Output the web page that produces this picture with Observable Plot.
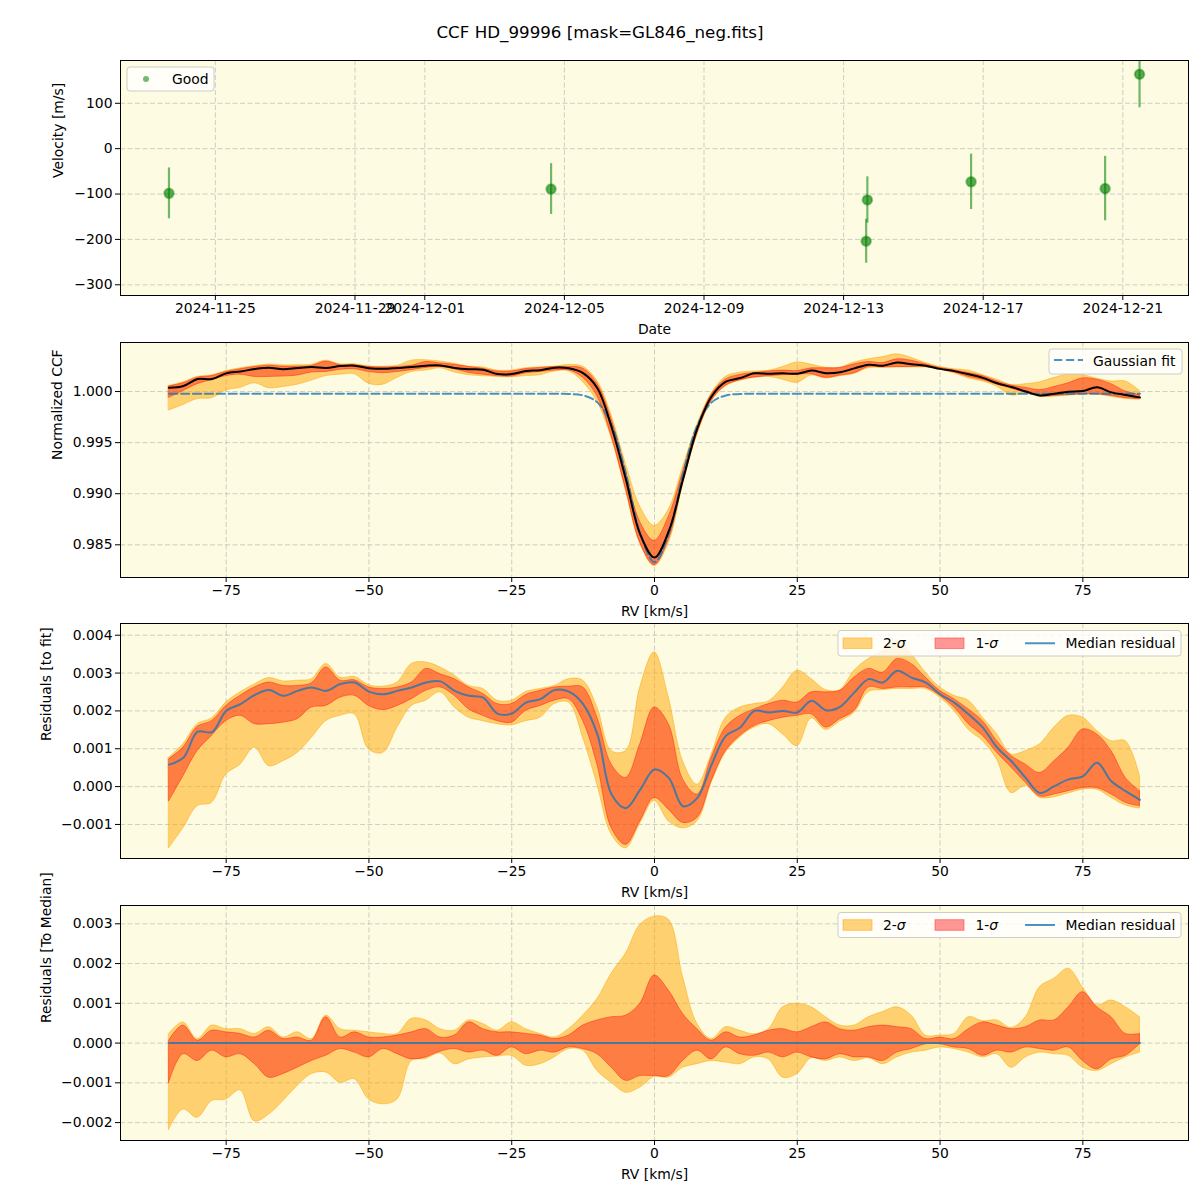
<!DOCTYPE html>
<html><head><meta charset="utf-8">
<script src="https://cdn.jsdelivr.net/npm/d3@7"></script>
<script src="https://cdn.jsdelivr.net/npm/@observablehq/plot@0.6"></script>
<style>
body{margin:0;background:#fff;font-family:"DejaVu Sans",sans-serif;}
#fig{position:relative;width:1200px;height:1200px;background:#fff;}
#title{position:absolute;top:22px;left:0;width:1200px;text-align:center;font-size:16.7px;line-height:20px;color:#000;}
</style></head>
<body><div id="fig"><div id="title">CCF HD_99996 [mask=GL846_neg.fits]</div></div>
<script>
// ---------- Panel 1 data: RV time series ----------
const obsDates = ["2024-11-23T16:05Z","2024-12-04T14:50Z","2024-12-13T16:20Z","2024-12-13T15:30Z","2024-12-16T15:40Z","2024-12-20T11:50Z","2024-12-21T11:30Z"];
const obsVel = [-98.5, -89, -113, -204, -73, -88, 164];
const obsErr = [56, 56, 51, 48.5, 61, 71, 74];
const dateTicks = ["2024-11-25","2024-11-29","2024-12-01","2024-12-05","2024-12-09","2024-12-13","2024-12-17","2024-12-21"];
const velTicks = [-300, -200, -100, 0, 100];

// ---------- Shared RV grid (km/s) ----------
const rv = [-85,-82.5,-80,-77.5,-75,-72.5,-70,-67.5,-65,-62.5,-60,-57.5,-55,-52.5,-50,-47.5,-45,-42.5,-40,-37.5,-35,-32.5,-30,-27.5,-25,-22.5,-20,-17.5,-15,-12.5,-10,-7.5,-5,-2.5,0,2.5,5,7.5,10,12.5,15,17.5,20,22.5,25,27.5,30,32.5,35,37.5,40,42.5,45,47.5,50,52.5,55,57.5,60,62.5,65,67.5,70,72.5,75,77.5,80,82.5,85];
const rvTicks = [-75, -50, -25, 0, 25, 50, 75];

// ---------- Panel 2: normalized CCF ----------
const ccfMed = [1.00036,1.00054,1.00123,1.00122,1.00178,1.00196,1.00220,1.00233,1.00218,1.00231,
1.00240,1.00231,1.00249,1.00253,1.00229,1.00222,1.00231,1.00240,1.00253,1.00256,
1.00231,1.00218,1.00213,1.00171,1.00171,1.00200,1.00209,1.00233,1.00227,1.00180,
1.00032,0.99648,0.99138,0.98602,0.98375,0.98633,0.99143,0.99639,0.99952,1.00096,
1.00132,1.00178,1.00174,1.00178,1.00174,1.00205,1.00180,1.00189,1.00227,1.00262,
1.00253,1.00284,1.00266,1.00253,1.00222,1.00200,1.00169,1.00134,1.00081,1.00045,
1.00001,0.99961,0.99979,0.99997,1.00005,1.00041,0.99992,0.99966,0.99943];
const ccfLo1 = [0.99939,1.00005,1.00072,1.00112,1.00151,1.00165,1.00143,1.00143,1.00147,1.00156,
1.00187,1.00191,1.00213,1.00218,1.00191,1.00180,1.00191,1.00209,1.00231,1.00240,
1.00218,1.00182,1.00165,1.00151,1.00147,1.00178,1.00191,1.00205,1.00207,1.00135,
0.99952,0.99559,0.99041,0.98518,0.98300,0.98549,0.99099,0.99586,0.99908,1.00056,
1.00110,1.00138,1.00151,1.00160,1.00165,1.00169,1.00134,1.00156,1.00178,1.00240,
1.00236,1.00240,1.00240,1.00240,1.00218,1.00187,1.00143,1.00112,1.00067,1.00028,
0.99988,0.99952,0.99957,0.99966,0.99974,0.99974,0.99957,0.99935,0.99926];
const ccfHi1 = [1.00050,1.00081,1.00136,1.00151,1.00191,1.00218,1.00240,1.00253,1.00244,1.00244,
1.00251,1.00293,1.00258,1.00259,1.00240,1.00236,1.00240,1.00253,1.00289,1.00275,
1.00262,1.00240,1.00223,1.00196,1.00196,1.00220,1.00231,1.00240,1.00240,1.00224,
1.00076,0.99727,0.99218,0.98722,0.98539,0.98775,0.99214,0.99648,0.99970,1.00118,
1.00163,1.00182,1.00196,1.00205,1.00200,1.00227,1.00227,1.00231,1.00266,1.00289,
1.00279,1.00315,1.00302,1.00266,1.00231,1.00209,1.00182,1.00151,1.00098,1.00059,
1.00036,1.00014,1.00045,1.00081,1.00129,1.00116,1.00072,1.00001,0.99966];
const ccfLo2 = [0.99815,0.99868,0.99926,0.99935,1.00010,1.00036,1.00081,1.00032,1.00045,1.00067,
1.00107,1.00151,1.00165,1.00169,1.00076,1.00067,1.00134,1.00191,1.00205,1.00227,
1.00187,1.00160,1.00151,1.00143,1.00140,1.00151,1.00160,1.00196,1.00198,1.00091,
0.99899,0.99542,0.99032,0.98512,0.98292,0.98518,0.99085,0.99577,0.99904,1.00052,
1.00106,1.00134,1.00143,1.00116,1.00085,1.00158,1.00128,1.00150,1.00173,1.00228,
1.00233,1.00236,1.00236,1.00236,1.00213,1.00178,1.00128,1.00098,1.00048,0.99961,
0.99980,0.99948,0.99950,0.99960,0.99970,0.99970,0.99948,0.99928,0.99920];
const ccfHi2 = [1.00054,1.00090,1.00143,1.00158,1.00200,1.00227,1.00248,1.00265,1.00256,1.00258,
1.00262,1.00302,1.00266,1.00268,1.00246,1.00242,1.00253,1.00302,1.00306,1.00293,
1.00271,1.00244,1.00236,1.00205,1.00205,1.00228,1.00236,1.00244,1.00260,1.00242,
1.00103,0.99763,0.99289,0.98872,0.98685,0.98845,0.99262,0.99674,0.99979,1.00144,
1.00185,1.00196,1.00203,1.00240,1.00284,1.00262,1.00233,1.00233,1.00284,1.00315,
1.00337,1.00364,1.00328,1.00279,1.00240,1.00218,1.00205,1.00160,1.00116,1.00063,
1.00072,1.00090,1.00134,1.00165,1.00160,1.00125,1.00098,1.00098,1.00005];
const gaussFit = [0.99978,0.99978,0.99978,0.99978,0.99978,0.99978,0.99978,0.99978,0.99978,0.99978,
0.99978,0.99978,0.99978,0.99978,0.99978,0.99978,0.99978,0.99978,0.99978,0.99978,
0.99978,0.99978,0.99978,0.99978,0.99978,0.99978,0.99978,0.99978,0.99976,0.99962,
0.99894,0.99669,0.99195,0.98610,0.98330,0.98610,0.99195,0.99669,0.99894,0.99962,
0.99976,0.99978,0.99978,0.99978,0.99978,0.99978,0.99978,0.99978,0.99978,0.99978,
0.99978,0.99978,0.99978,0.99978,0.99978,0.99978,0.99978,0.99978,0.99978,0.99978,
0.99978,0.99978,0.99978,0.99978,0.99978,0.99978,0.99978,0.99978,0.99978];
const ccfTicks = [0.985, 0.990, 0.995, 1.000];

// ---------- Panel 3: residuals to fit (units of 1e-3) ----------
const resMed = [0.58,0.76,1.45,1.44,2.00,2.18,2.42,2.55,2.40,2.53,
2.62,2.53,2.71,2.75,2.51,2.44,2.53,2.62,2.75,2.78,
2.53,2.40,2.35,1.93,1.93,2.22,2.31,2.55,2.51,2.18,
1.38,-0.21,-0.57,-0.08,0.45,0.23,-0.52,-0.30,0.58,1.34,
1.56,2.00,1.96,2.00,1.96,2.27,2.02,2.11,2.49,2.84,
2.75,3.06,2.88,2.75,2.44,2.22,1.91,1.56,1.03,0.67,
0.23,-0.17,0.01,0.19,0.27,0.63,0.14,-0.12,-0.35];
const resLo1 = [-0.39,0.27,0.94,1.34,1.73,1.87,1.65,1.65,1.69,1.78,
2.09,2.13,2.35,2.40,2.13,2.02,2.13,2.31,2.53,2.62,
2.40,2.04,1.87,1.73,1.69,2.00,2.13,2.27,2.31,1.73,
0.58,-1.10,-1.54,-0.92,-0.30,-0.61,-0.96,-0.83,0.14,0.94,
1.34,1.60,1.73,1.82,1.87,1.91,1.56,1.78,2.00,2.62,
2.58,2.62,2.62,2.62,2.40,2.09,1.65,1.34,0.89,0.50,
0.10,-0.26,-0.21,-0.12,-0.04,-0.04,-0.21,-0.43,-0.52];
const resHi1 = [0.72,1.03,1.58,1.73,2.13,2.40,2.62,2.75,2.66,2.66,
2.73,3.15,2.80,2.81,2.62,2.58,2.62,2.75,3.11,2.97,
2.84,2.62,2.45,2.18,2.18,2.42,2.53,2.62,2.64,2.62,
1.82,0.58,0.23,1.12,2.09,1.65,0.19,-0.21,0.76,1.56,
1.87,2.04,2.18,2.27,2.22,2.49,2.49,2.53,2.88,3.11,
3.01,3.37,3.24,2.88,2.53,2.31,2.04,1.73,1.20,0.81,
0.58,0.36,0.67,1.03,1.51,1.38,0.94,0.23,-0.12];
const resLo2 = [-1.63,-1.10,-0.52,-0.43,0.32,0.58,1.03,0.54,0.67,0.89,
1.29,1.73,1.87,1.91,0.98,0.89,1.56,2.13,2.27,2.49,
2.09,1.82,1.73,1.65,1.62,1.73,1.82,2.18,2.22,1.29,
0.05,-1.27,-1.63,-0.98,-0.38,-0.92,-1.10,-0.92,0.10,0.90,
1.30,1.56,1.65,1.38,1.07,1.80,1.50,1.72,1.95,2.50,
2.55,2.58,2.58,2.58,2.35,2.00,1.50,1.20,0.70,-0.17,
0.02,-0.30,-0.28,-0.18,-0.08,-0.08,-0.30,-0.50,-0.58];
const resHi2 = [0.76,1.12,1.65,1.80,2.22,2.49,2.70,2.87,2.78,2.80,
2.84,3.24,2.88,2.90,2.68,2.64,2.75,3.24,3.28,3.15,
2.93,2.66,2.58,2.27,2.27,2.50,2.58,2.66,2.84,2.80,
2.09,0.94,0.94,2.62,3.55,2.35,0.67,0.05,0.85,1.82,
2.09,2.18,2.25,2.62,3.06,2.84,2.55,2.55,3.06,3.37,
3.59,3.86,3.50,3.01,2.62,2.40,2.27,1.82,1.38,0.85,
0.94,1.12,1.56,1.87,1.82,1.47,1.20,1.20,0.27];
const resFitTicks = [-0.001, 0, 0.001, 0.002, 0.003, 0.004];

// ---------- Panel 4: residuals to median (units of 1e-3) ----------
const medLo1 = [-1.00,-0.28,-0.45,-0.19,-0.36,-0.28,-0.53,-0.87,-0.78,-0.62,
-0.45,-0.32,-0.15,-0.24,-0.36,-0.15,-0.28,-0.41,-0.36,-0.22,
-0.15,-0.24,-0.19,-0.32,-0.11,-0.28,-0.19,-0.24,-0.11,-0.15,
-0.28,-0.62,-0.95,-0.83,-0.83,-0.83,-0.45,-0.19,-0.41,-0.11,
-0.28,-0.32,-0.24,-0.36,-0.24,-0.36,-0.41,-0.28,-0.36,-0.36,
-0.45,-0.24,-0.15,-0.03,-0.03,-0.11,-0.15,-0.32,-0.19,-0.24,
-0.11,-0.15,-0.19,-0.11,-0.45,-0.66,-0.41,-0.32,-0.03];
const medHi1 = [0.06,0.44,0.06,0.31,0.27,0.23,0.14,0.31,0.10,0.14,
0.06,0.65,0.14,0.27,0.14,0.14,0.19,0.27,0.35,0.14,
0.19,0.52,0.35,0.27,0.27,0.23,0.19,0.10,0.19,0.44,
0.57,0.65,0.69,0.99,1.70,1.32,0.73,0.35,0.06,0.27,
0.14,0.19,0.31,0.35,0.27,0.40,0.52,0.35,0.31,0.40,
0.44,0.40,0.35,0.10,0.14,0.10,0.35,0.52,0.44,0.35,
0.40,0.57,0.57,0.90,1.28,0.90,0.65,0.23,0.23];
const medLo2 = [-2.18,-1.67,-1.88,-1.46,-1.42,-1.19,-1.97,-1.80,-1.46,-1.08,
-0.78,-0.74,-1.00,-0.91,-1.42,-1.54,-1.42,-0.45,-0.40,-0.26,
-0.53,-0.41,-0.36,-0.34,-0.32,-0.57,-0.53,-0.36,-0.15,-0.19,
-0.70,-1.00,-1.25,-1.12,-0.85,-0.87,-0.62,-0.53,-0.45,-0.49,
-0.53,-0.36,-0.41,-0.87,-0.78,-0.38,-0.45,-0.36,-0.45,-0.38,
-0.53,-0.36,-0.24,-0.19,-0.11,-0.15,-0.24,-0.36,-0.28,-0.62,
-0.36,-0.24,-0.28,-0.32,-0.62,-0.70,-0.53,-0.36,-0.24];
const medHi2 = [0.23,0.52,0.10,0.44,0.35,0.35,0.23,0.40,0.14,0.27,
0.10,0.69,0.35,0.31,0.27,0.23,0.23,0.61,0.57,0.35,
0.31,0.57,0.48,0.31,0.52,0.35,0.23,0.14,0.35,0.69,
1.11,1.75,2.25,2.97,3.18,3.10,1.66,0.48,0.10,0.40,
0.31,0.22,0.35,0.90,0.99,0.90,0.65,0.44,0.44,0.65,
0.78,0.90,0.69,0.19,0.19,0.23,0.65,0.55,0.57,0.38,
0.65,1.41,1.62,1.87,1.40,0.95,1.07,0.90,0.65];
const medZero = rv.map(() => 0); // median residual relative to itself
const resMedTicks = [-0.002, -0.001, 0, 0.001, 0.002, 0.003];
const UNIT = 1e-3;

// ---------- styling ----------
const FONT = "'DejaVu Sans', sans-serif";
const FS = "13.9px";
const BG = "#fdfbe1";
const GRID = {stroke: "#b0b0b0", strokeOpacity: 0.6, strokeDasharray: "5,2.5", strokeWidth: 1};
const W = 1200, ML = 120, MR = 12, MT = 10, MB = 45, PH = 235;
const CURVE = "catmull-rom";
const BLUE = "#1f77b4";
const DASH = "8.3,3.6";
const fig = document.getElementById("fig");

function place(svg, top) {
  svg.style.position = "absolute";
  svg.style.left = "0px";
  svg.style.top = top + "px";
  fig.appendChild(svg);
}
function makePlot(opts) {
  return Plot.plot(Object.assign({
    width: W, height: MT + PH + MB,
    marginLeft: ML, marginRight: MR, marginTop: MT, marginBottom: MB,
    style: {fontFamily: FONT, fontSize: FS, background: "transparent", color: "black", overflow: "visible"}
  }, opts));
}
function axisLabels(xLabel, yLabel, yDx) {
  return [
    Plot.text([xLabel], {text: d => d, frameAnchor: "bottom", dy: 38, fontSize: FS}),
    Plot.text([yLabel], {text: d => d, frameAnchor: "left", dx: yDx, rotate: -90, fontSize: FS})
  ];
}
function legendGroup(svg) {
  return d3.select(svg).append("g").attr("font-family", FONT).attr("font-size", FS).attr("text-anchor", "start").attr("fill", "black");
}
function legendBox(g, x0, y0, x1, y1) {
  g.append("rect").attr("x", x0).attr("y", y0).attr("width", x1 - x0).attr("height", y1 - y0)
    .attr("rx", 3).attr("fill", "white").attr("fill-opacity", 0.8).attr("stroke", "#cccccc").attr("stroke-width", 1);
}
function legendText(g, x, y) {
  return g.append("text").attr("x", x).attr("y", y).attr("dominant-baseline", "central").attr("text-anchor", "start");
}
function sigmaLegend(svg, top, y0, y1) {
  const g = legendGroup(svg);
  legendBox(g, 838, y0 - top, 1181, y1 - top);
  const cy = (y0 + y1) / 2 - top;
  g.append("rect").attr("x", 843).attr("y", cy - 5.3).attr("width", 29).attr("height", 10.6)
    .attr("fill", "orange").attr("fill-opacity", 0.5).attr("stroke", "orange").attr("stroke-opacity", 0.5);
  const t1 = legendText(g, 883, cy);
  t1.append("tspan").text("2-"); t1.append("tspan").attr("font-style", "italic").text("σ");
  g.append("rect").attr("x", 935).attr("y", cy - 5.3).attr("width", 29).attr("height", 10.6)
    .attr("fill", "red").attr("fill-opacity", 0.4).attr("stroke", "red").attr("stroke-opacity", 0.4);
  const t2 = legendText(g, 975.5, cy);
  t2.append("tspan").text("1-"); t2.append("tspan").attr("font-style", "italic").text("σ");
  g.append("line").attr("x1", 1025).attr("x2", 1055).attr("y1", cy).attr("y2", cy)
    .attr("stroke", BLUE).attr("stroke-opacity", 0.8).attr("stroke-width", 2);
  legendText(g, 1065.5, cy).text("Median residual");
}

// ---------- Panel 1 ----------
const obs = obsDates.map((d, i) => ({date: new Date(d), v: obsVel[i], lo: obsVel[i] - obsErr[i], hi: obsVel[i] + obsErr[i]}));
const dTicks = dateTicks.map(d => new Date(d + "T00:00Z"));
const p1 = makePlot({
  x: {type: "utc", domain: [new Date("2024-11-22T06:45Z"), new Date("2024-12-22T21:10Z")], label: null},
  y: {domain: [-323.6, 194.3], label: null},
  marks: [
    Plot.frame({fill: BG}),
    Plot.gridX(dTicks, GRID),
    Plot.gridY(velTicks, GRID),
    Plot.ruleX(obs, {x: "date", y1: "lo", y2: "hi", stroke: "green", strokeOpacity: 0.55, strokeWidth: 2.2, clip: true}),
    Plot.dot(obs, {x: "date", y: "v", r: 4.8, fill: "green", fillOpacity: 0.65, stroke: "green", strokeOpacity: 0.4, strokeWidth: 2}),
    Plot.frame({stroke: "black", strokeWidth: 1}),
    Plot.axisX(dTicks, {tickFormat: d3.utcFormat("%Y-%m-%d"), tickSize: 5, tickPadding: 3, label: null}),
    Plot.axisY(velTicks, {tickFormat: d3.format("d"), tickSize: 5, tickPadding: 3, label: null}),
    ...axisLabels("Date", "Velocity [m/s]", -62)
  ]
});
place(p1, 50);
{
  const g = legendGroup(p1);
  legendBox(g, 127, 67 - 50, 214, 91 - 50);
  g.append("circle").attr("cx", 146).attr("cy", 79 - 50).attr("r", 3).attr("fill", "green").attr("fill-opacity", 0.55);
  legendText(g, 172, 79 - 50).text("Good");
}

// ---------- Panel 2 ----------
const ccfRows = rv.map((x, i) => ({rv: x, med: ccfMed[i], lo1: ccfLo1[i], hi1: ccfHi1[i], lo2: ccfLo2[i], hi2: ccfHi2[i], fit: gaussFit[i]}));
const p2 = makePlot({
  x: {domain: [-93.5, 93.5], label: null},
  y: {domain: [0.9818, 1.0048], label: null},
  marks: [
    Plot.frame({fill: BG}),
    Plot.gridX(rvTicks, GRID),
    Plot.gridY(ccfTicks, GRID),
    Plot.areaY(ccfRows, {x: "rv", y1: "lo2", y2: "hi2", fill: "orange", fillOpacity: 0.5, stroke: "orange", strokeOpacity: 0.5, strokeWidth: 1, curve: CURVE}),
    Plot.areaY(ccfRows, {x: "rv", y1: "lo1", y2: "hi1", fill: "red", fillOpacity: 0.4, stroke: "red", strokeOpacity: 0.4, strokeWidth: 1, curve: CURVE}),
    Plot.lineY(ccfRows, {x: "rv", y: "fit", stroke: BLUE, strokeOpacity: 0.8, strokeWidth: 2, strokeDasharray: DASH, curve: CURVE}),
    Plot.lineY(ccfRows, {x: "rv", y: "med", stroke: "black", strokeWidth: 2, curve: CURVE}),
    Plot.frame({stroke: "black", strokeWidth: 1}),
    Plot.axisX(rvTicks, {tickFormat: d3.format("d"), tickSize: 5, tickPadding: 3, label: null}),
    Plot.axisY(ccfTicks, {tickFormat: d3.format(".3f"), tickSize: 5, tickPadding: 3, label: null}),
    ...axisLabels("RV [km/s]", "Normalized CCF", -63)
  ]
});
place(p2, 332);
{
  const top = 332;
  const g = legendGroup(p2);
  legendBox(g, 1049, 349 - top, 1182, 374 - top);
  g.append("line").attr("x1", 1054).attr("x2", 1083).attr("y1", 360 - top).attr("y2", 360 - top)
    .attr("stroke", BLUE).attr("stroke-opacity", 0.8).attr("stroke-width", 2).attr("stroke-dasharray", DASH);
  legendText(g, 1093, 360.5 - top).text("Gaussian fit");
}

// ---------- Panel 3 ----------
const resRows = rv.map((x, i) => ({rv: x, med: resMed[i] * UNIT, lo1: resLo1[i] * UNIT, hi1: resHi1[i] * UNIT, lo2: resLo2[i] * UNIT, hi2: resHi2[i] * UNIT}));
const p3 = makePlot({
  x: {domain: [-93.5, 93.5], label: null},
  y: {domain: [-0.0019, 0.00431], label: null},
  marks: [
    Plot.frame({fill: BG}),
    Plot.gridX(rvTicks, GRID),
    Plot.gridY(resFitTicks, GRID),
    Plot.areaY(resRows, {x: "rv", y1: "lo2", y2: "hi2", fill: "orange", fillOpacity: 0.5, stroke: "orange", strokeOpacity: 0.5, strokeWidth: 1, curve: CURVE}),
    Plot.areaY(resRows, {x: "rv", y1: "lo1", y2: "hi1", fill: "red", fillOpacity: 0.4, stroke: "red", strokeOpacity: 0.4, strokeWidth: 1, curve: CURVE}),
    Plot.lineY(resRows, {x: "rv", y: "med", stroke: BLUE, strokeOpacity: 0.8, strokeWidth: 2, curve: CURVE}),
    Plot.frame({stroke: "black", strokeWidth: 1}),
    Plot.axisX(rvTicks, {tickFormat: d3.format("d"), tickSize: 5, tickPadding: 3, label: null}),
    Plot.axisY(resFitTicks, {tickFormat: d3.format(".3f"), tickSize: 5, tickPadding: 3, label: null}),
    ...axisLabels("RV [km/s]", "Residuals [to fit]", -74)
  ]
});
place(p3, 613);
sigmaLegend(p3, 613, 630.5, 656);

// ---------- Panel 4 ----------
const medRows = rv.map((x, i) => ({rv: x, med: medZero[i], lo1: medLo1[i] * UNIT, hi1: medHi1[i] * UNIT, lo2: medLo2[i] * UNIT, hi2: medHi2[i] * UNIT}));
const p4 = makePlot({
  x: {domain: [-93.5, 93.5], label: null},
  y: {domain: [-0.00245, 0.00346], label: null},
  marks: [
    Plot.frame({fill: BG}),
    Plot.gridX(rvTicks, GRID),
    Plot.gridY(resMedTicks, GRID),
    Plot.areaY(medRows, {x: "rv", y1: "lo2", y2: "hi2", fill: "orange", fillOpacity: 0.5, stroke: "orange", strokeOpacity: 0.5, strokeWidth: 1, curve: CURVE}),
    Plot.areaY(medRows, {x: "rv", y1: "lo1", y2: "hi1", fill: "red", fillOpacity: 0.4, stroke: "red", strokeOpacity: 0.4, strokeWidth: 1, curve: CURVE}),
    Plot.lineY(medRows, {x: "rv", y: "med", stroke: BLUE, strokeOpacity: 0.8, strokeWidth: 2}),
    Plot.frame({stroke: "black", strokeWidth: 1}),
    Plot.axisX(rvTicks, {tickFormat: d3.format("d"), tickSize: 5, tickPadding: 3, label: null}),
    Plot.axisY(resMedTicks, {tickFormat: d3.format(".3f"), tickSize: 5, tickPadding: 3, label: null}),
    ...axisLabels("RV [km/s]", "Residuals [To Median]", -74)
  ]
});
place(p4, 895);
sigmaLegend(p4, 895, 912.5, 937.5);
</script>
</body></html>
